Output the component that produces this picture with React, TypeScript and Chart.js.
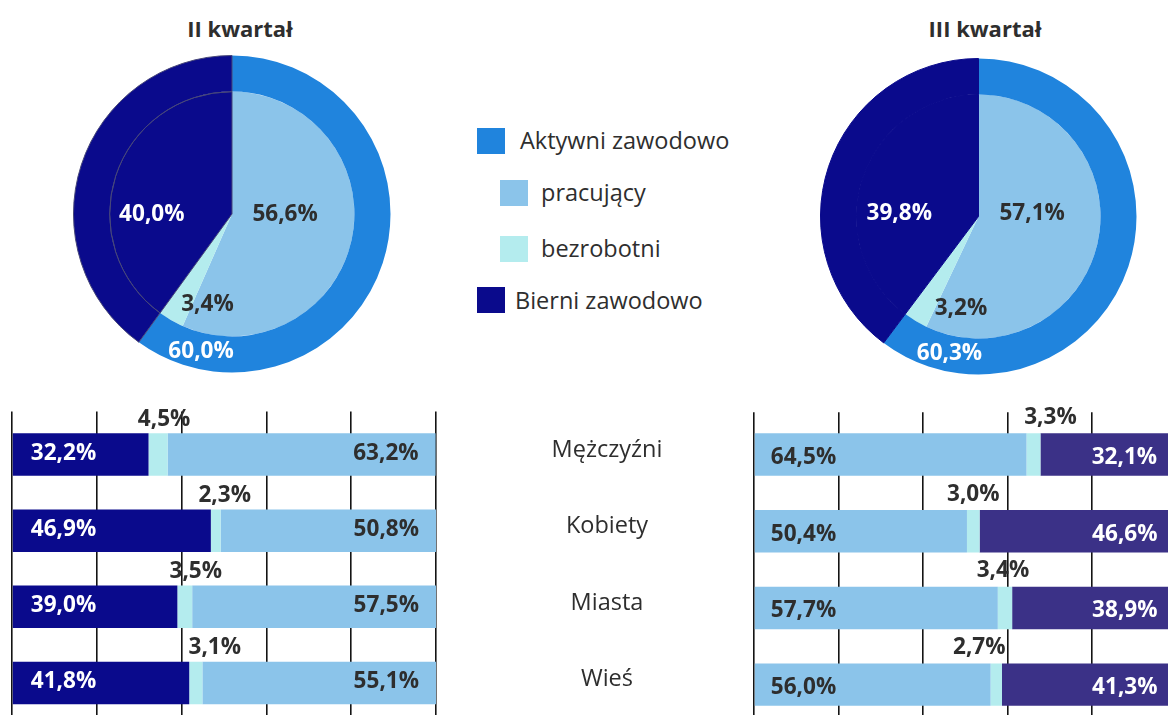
import React, { useEffect, useRef } from 'react';
import { Chart, registerables } from 'chart.js';

Chart.register(...registerables);

// ---------- data ----------
const quarterTitles = ['II kwartał', 'III kwartał'];
const legendLabels = ['Aktywni zawodowo', 'pracujący', 'bezrobotni', 'Bierni zawodowo'];
const activeShare = [60.0, 60.3];
const passiveShare = [40.0, 39.8];
const employedShare = [56.6, 57.1];
const unemployedShare = [3.4, 3.2];

const groups = ['Mężczyźni', 'Kobiety', 'Miasta', 'Wieś'];
const q2Passive = [32.2, 46.9, 39.0, 41.8];
const q2Unemployed = [4.5, 2.3, 3.5, 3.1];
const q2Employed = [63.2, 50.8, 57.5, 55.1];
const q3Employed = [64.5, 50.4, 57.7, 56.0];
const q3Unemployed = [3.3, 3.0, 3.4, 2.7];
const q3Passive = [32.1, 46.6, 38.9, 41.3];
const axisTicks = [0, 20, 40, 60, 80, 100];

// ---------- style ----------
const C_ACTIVE = '#2084DD';
const C_EMPLOYED = '#8BC4EA';
const C_UNEMPLOYED = '#B4ECEE';
const C_PASSIVE = '#0A0A8C';
const C_PASSIVE2 = '#3B3187';
const C_TEXT = '#2E2E2E';
const FAMILY = '"Open Sans", sans-serif';
const LABEL_FONT = `bold 23px ${FAMILY}`;
const LABEL_SCALE = 0.98;

const fmt = (v: number) => v.toFixed(1).replace('.', ',') + '%';

function drawText(ctx: CanvasRenderingContext2D, text: string, x: number, y: number, align: CanvasTextAlign, color: string, font = LABEL_FONT, sx = LABEL_SCALE) {
  ctx.save();
  ctx.font = font;
  ctx.fillStyle = color;
  ctx.textBaseline = 'middle';
  ctx.textAlign = align;
  ctx.translate(x, y);
  ctx.scale(sx, 1);
  ctx.fillText(text, 0, 0);
  ctx.restore();
}

type PieLabel = { ds: number; i: number; frac: number; r: number; color: string };

function PieChart({ idx, left, top, size, labels, seamColor }: { idx: number; left: number; top: number; size: number; labels: PieLabel[]; seamColor: string }) {
  const ref = useRef<HTMLCanvasElement>(null);
  useEffect(() => {
    const plugin = {
      id: 'pieLabels',
      afterDatasetsDraw(chart: any) {
        const ctx = chart.ctx;
        const R = chart.getDatasetMeta(0).data[0].outerRadius;
        labels.forEach((l) => {
          const arc = chart.getDatasetMeta(l.ds).data[l.i];
          const a = arc.startAngle + l.frac * (arc.endAngle - arc.startAngle);
          const x = arc.x + Math.cos(a) * R * l.r;
          const y = arc.y + Math.sin(a) * R * l.r;
          const v = chart.data.datasets[l.ds].data[l.i] as number;
          drawText(ctx, fmt(v), x, y, 'center', l.color);
        });
      },
    };
    const chart = new Chart(ref.current!, {
      type: 'pie',
      data: {
        labels: legendLabels,
        datasets: [
          {
            data: [activeShare[idx], passiveShare[idx]],
            backgroundColor: [C_ACTIVE, C_PASSIVE],
            borderColor: ['rgba(0,0,0,0)', seamColor],
            borderWidth: 1,
            weight: 36,
          } as any,
          {
            data: [employedShare[idx], unemployedShare[idx], passiveShare[idx]],
            backgroundColor: [C_EMPLOYED, C_UNEMPLOYED, C_PASSIVE],
            borderColor: ['rgba(0,0,0,0)', 'rgba(0,0,0,0)', seamColor],
            borderWidth: 1,
            weight: 122,
          } as any,
        ],
      },
      options: {
        responsive: false,
        animation: false,
        layout: { padding: 0 },
        plugins: { legend: { display: false }, tooltip: { enabled: false } },
      },
      plugins: [plugin],
    });
    return () => chart.destroy();
  }, []);
  return <canvas ref={ref} width={size} height={size} style={{ position: 'absolute', left, top, width: size, height: size }} />;
}

type BarSpec = {
  datasets: { data: number[]; color: string }[];
  left: number;
  top: number;
  width: number;
  height: number;
  padding: { left: number; right: number; top: number; bottom: number };
  barPct: number;
  tickLength: number;
  mode: 'left' | 'right';
  nudge: number[];
  showCategories: boolean;
};

function BarChart(spec: BarSpec) {
  const ref = useRef<HTMLCanvasElement>(null);
  useEffect(() => {
    const plugin = {
      id: 'barLabels',
      afterDatasetsDraw(chart: any) {
        const ctx = chart.ctx;
        const metas = [0, 1, 2].map((d) => chart.getDatasetMeta(d));
        for (let i = 0; i < groups.length; i++) {
          const first = metas[0].data[i];
          const mid = metas[1].data[i];
          const last = metas[2].data[i];
          const v0 = chart.data.datasets[0].data[i];
          const v1 = chart.data.datasets[1].data[i];
          const v2 = chart.data.datasets[2].data[i];
          if (spec.mode === 'left') {
            drawText(ctx, fmt(v0), first.base + 18, first.y - 1, 'left', '#FFFFFF');
            drawText(ctx, fmt(v2), last.x - 17, last.y - 1, 'right', C_TEXT);
            drawText(ctx, fmt(v1), (mid.base + mid.x) / 2 + spec.nudge[i], mid.y - 35, 'center', C_TEXT);
          } else {
            drawText(ctx, fmt(v0), first.base + 16, first.y + 3, 'left', C_TEXT);
            drawText(ctx, fmt(v2), last.x - 19, last.y + 3, 'right', '#FFFFFF');
            drawText(ctx, fmt(v1), (mid.base + mid.x) / 2 + spec.nudge[i], mid.y - 37, 'center', C_TEXT);
          }
          if (spec.showCategories) {
            drawText(ctx, groups[i], chart.chartArea.right + 171, mid.y - 4, 'center', C_TEXT, `23.5px ${FAMILY}`, 1);
          }
        }
      },
    };
    const chart = new Chart(ref.current!, {
      type: 'bar',
      data: {
        labels: groups,
        datasets: spec.datasets.map((d) => ({
          data: d.data,
          backgroundColor: d.color,
          borderWidth: 0,
          barPercentage: spec.barPct,
          categoryPercentage: 1,
        })),
      },
      options: {
        indexAxis: 'y',
        responsive: false,
        animation: false,
        layout: { padding: spec.padding },
        scales: {
          x: {
            stacked: true,
            min: 0,
            max: 100,
            position: 'top',
            afterBuildTicks: (axis: any) => {
              axis.ticks = axisTicks.map((v) => ({ value: v }));
            },
            ticks: { display: false },
            grid: { color: '#141414', lineWidth: 1.6, drawTicks: true, tickLength: spec.tickLength, tickColor: '#141414' },
            border: { display: false },
          },
          y: { stacked: true, display: false },
        },
        plugins: { legend: { display: false }, tooltip: { enabled: false } },
      },
      plugins: [plugin],
    });
    return () => chart.destroy();
  }, []);
  return (
    <canvas
      ref={ref}
      width={spec.width}
      height={spec.height}
      style={{ position: 'absolute', left: spec.left, top: spec.top, width: spec.width, height: spec.height }}
    />
  );
}

const legendColors = [C_ACTIVE, C_EMPLOYED, C_UNEMPLOYED, C_PASSIVE];
const legendRows = [
  { sq: [477, 128], tx: [520, 140] },
  { sq: [500, 180], tx: [541, 192] },
  { sq: [500, 236], tx: [541, 248] },
  { sq: [477, 287], tx: [515, 300] },
];

export default function App() {
  useEffect(() => {
    document.body.style.margin = '0';
    document.body.style.overflow = 'hidden';
  }, []);

  const titleStyle = (cx: number): React.CSSProperties => ({
    position: 'absolute',
    left: cx - 100,
    width: 200,
    top: 13,
    textAlign: 'center',
    font: `bold 22px ${FAMILY}`,
    color: C_TEXT,
    lineHeight: '30px',
  });

  return (
    <div style={{ position: 'relative', width: 1168, height: 715, overflow: 'hidden', background: '#fff' }}>
      <div style={titleStyle(240)}>{quarterTitles[0]}</div>
      <div style={titleStyle(985)}>{quarterTitles[1]}</div>

      <PieChart
        idx={0}
        left={73}
        top={55}
        size={318}
        seamColor="#474778"
        labels={[
          { ds: 1, i: 0, frac: 0.4417, r: 0.335, color: C_TEXT },
          { ds: 1, i: 2, frac: 0.375, r: 0.506, color: '#FFFFFF' },
          { ds: 1, i: 1, frac: -0.708, r: 0.594, color: C_TEXT },
          { ds: 0, i: 0, frac: 0.892, r: 0.89, color: '#FFFFFF' },
        ]}
      />
      <PieChart
        idx={1}
        left={820}
        top={58}
        size={317}
        seamColor={C_PASSIVE}
        labels={[
          { ds: 1, i: 0, frac: 0.423, r: 0.34, color: C_TEXT },
          { ds: 1, i: 2, frac: 0.386, r: 0.502, color: '#FFFFFF' },
          { ds: 1, i: 1, frac: -1.27, r: 0.595, color: C_TEXT },
          { ds: 0, i: 0, frac: 0.885, r: 0.889, color: '#FFFFFF' },
        ]}
      />

      {legendLabels.map((lab, k) => (
        <React.Fragment key={lab}>
          <div
            style={{
              position: 'absolute',
              left: legendRows[k].sq[0],
              top: legendRows[k].sq[1],
              width: 28,
              height: 26,
              background: legendColors[k],
            }}
          />
          <div
            style={{
              position: 'absolute',
              left: legendRows[k].tx[0],
              top: legendRows[k].tx[1] - 16,
              height: 32,
              lineHeight: '32px',
              font: `23.5px ${FAMILY}`,
              color: C_TEXT,
              whiteSpace: 'nowrap',
            }}
          >
            {lab}
          </div>
        </React.Fragment>
      ))}

      <BarChart
        datasets={[
          { data: q2Passive, color: C_PASSIVE },
          { data: q2Unemployed, color: C_UNEMPLOYED },
          { data: q2Employed, color: C_EMPLOYED },
        ]}
        left={0}
        top={400}
        width={700}
        height={321}
        padding={{ left: 12, right: 264, top: 11.5, bottom: 0 }}
        barPct={0.558}
        tickLength={5}
        mode="left"
        nudge={[6, 9, 11, 19]}
        showCategories={true}
      />
      <BarChart
        datasets={[
          { data: q3Employed, color: C_EMPLOYED },
          { data: q3Unemployed, color: C_UNEMPLOYED },
          { data: q3Passive, color: C_PASSIVE2 },
        ]}
        left={740}
        top={400}
        width={440}
        height={323}
        padding={{ left: 14, right: 3.5, top: 12.2, bottom: 0 }}
        barPct={0.553}
        tickLength={4}
        mode="right"
        nudge={[17, 0, -2, -17]}
        showCategories={false}
      />
    </div>
  );
}
